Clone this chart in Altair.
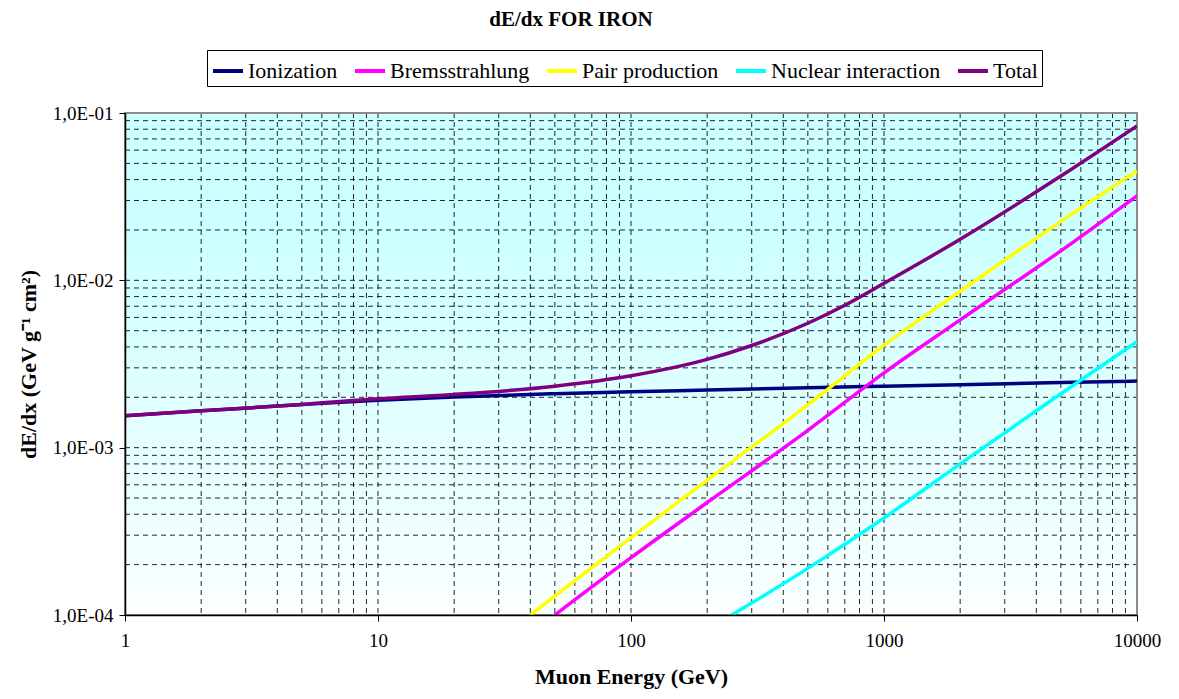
import altair as alt
import pandas as pd

# ---------------- data ----------------
series_names = ["Ionization", "Bremsstrahlung", "Pair production", "Nuclear interaction", "Total"]
series_colors = ["#000080", "#FF00FF", "#FFFF00", "#00FFFF", "#800080"]

ion_E = [1, 2, 5, 10, 20, 50, 100, 200, 500, 1000, 2000, 5000, 10000]
ion_v = [1.55e-3, 1.66e-3, 1.81e-3, 1.92e-3, 2.01e-3, 2.10e-3, 2.16e-3, 2.21e-3, 2.28e-3, 2.33e-3, 2.38e-3, 2.45e-3, 2.50e-3]

brems_E = [50, 100, 200, 500, 1000, 2000, 5000, 10000]
brems_v = [1.0e-4, 2.2e-4, 4.7e-4, 1.27e-3, 2.8e-3, 5.8e-3, 1.5e-2, 3.2e-2]

pair_E = [40, 100, 200, 500, 1000, 2000, 5000, 10000]
pair_v = [1.0e-4, 2.9e-4, 6.4e-4, 1.8e-3, 4.1e-3, 8.6e-3, 2.25e-2, 4.5e-2]

nucl_E = [250, 500, 1000, 2000, 5000, 10000]
nucl_v = [1.0e-4, 1.9e-4, 3.8e-4, 8.0e-4, 2.1e-3, 4.3e-3]

total_E = [1, 2, 5, 10, 20, 50, 100, 200, 300, 500, 700, 1000, 2000, 5000, 10000]
total_v = [1.55e-3, 1.66e-3, 1.81e-3, 1.96e-3, 2.08e-3, 2.33e-3, 2.69e-3, 3.37e-3, 4.08e-3,
           5.54e-3, 7.1e-3, 9.6e-3, 1.76e-2, 4.2e-2, 8.38e-2]

x_major = [1, 10, 100, 1000, 10000]
y_major = [1e-4, 1e-3, 1e-2, 1e-1]
y_labels = ["1,0E-04", "1,0E-03", "1,0E-02", "1,0E-01"]
x_minor = [m * d for d in [1, 10, 100, 1000] for m in range(2, 10)] + [10, 100, 1000]
y_minor = [m * d for d in [1e-4, 1e-3, 1e-2] for m in range(2, 10)] + [1e-3, 1e-2]

title_text = "dE/dx FOR IRON"
x_title = "Muon Energy (GeV)"
y_title = "dE/dx (GeV g\u207b\u00b9 cm\u00b2)"

# ---------------- build tables ----------------
rows = []
for name, es, vs in zip(series_names,
                        [ion_E, brems_E, pair_E, nucl_E, total_E],
                        [ion_v, brems_v, pair_v, nucl_v, total_v]):
    for e, v in zip(es, vs):
        rows.append({"series": name, "E": e, "v": v})
df = pd.DataFrame(rows)
df_xg = pd.DataFrame({"g": x_minor})
df_yg = pd.DataFrame({"g": y_minor})

W, H = 1012, 502
FONT = "Liberation Serif"

xscale = alt.Scale(type="log", domain=[1, 10000])
yscale = alt.Scale(type="log", domain=[1e-4, 1e-1])

label_expr_y = " : ".join(
    f"abs(datum.value - {v}) < {v}*1e-6 ? '{lab}'" for v, lab in zip(y_major, y_labels)
) + " : ''"

bg = alt.Chart(pd.DataFrame({"a": [0]})).mark_rect(
    fill=alt.Gradient(
        gradient="linear",
        stops=[alt.GradientStop(color="#CCFFFF", offset=0),
               alt.GradientStop(color="#CCFFFF", offset=0.25),
               alt.GradientStop(color="#FAFFFF", offset=1)],
        x1=0, x2=0, y1=0, y2=1,
    )
).encode(x=alt.value(0), x2=alt.value(W), y=alt.value(0), y2=alt.value(H))

xgrid = alt.Chart(df_xg).mark_rule(color="black", strokeWidth=1, strokeDash=[5, 4], opacity=0.85).encode(
    x=alt.X("g:Q", scale=xscale),
    y=alt.value(0), y2=alt.value(H),
)
ygrid = alt.Chart(df_yg).mark_rule(color="black", strokeWidth=1, strokeDash=[5, 4], opacity=0.85).encode(
    y=alt.Y("g:Q", scale=yscale),
    x=alt.value(0), x2=alt.value(W),
)

border = alt.Chart(pd.DataFrame({"a": [0]})).mark_rect(
    filled=False, stroke="#8C8C8C", strokeWidth=2
).encode(x=alt.value(0), x2=alt.value(W), y=alt.value(0), y2=alt.value(H))

lines = alt.Chart(df).mark_line(strokeWidth=3.5, clip=True, interpolate="monotone").encode(
    x=alt.X("E:Q", scale=xscale,
            axis=alt.Axis(values=x_major, format="d", title=x_title, grid=False,
                          labelFont=FONT, labelFontSize=19, labelColor="black",
                          titleFont=FONT, titleFontSize=22, titleFontWeight="bold", titleColor="black",
                          tickSize=6, tickColor="black", domainColor="black", domainWidth=1.5,
                          labelPadding=10, titlePadding=16, zindex=1, labelFlush=False)),
    y=alt.Y("v:Q", scale=yscale,
            axis=alt.Axis(values=y_major, labelExpr=label_expr_y, title=y_title, grid=False,
                          labelFont=FONT, labelFontSize=19, labelColor="black",
                          titleFont=FONT, titleFontSize=22, titleFontWeight="bold", titleColor="black",
                          tickSize=6, tickColor="black", domainColor="black", domainWidth=1.5,
                          labelPadding=6, titlePadding=12, zindex=1, labelFlush=False)),
    color=alt.Color("series:N",
                    scale=alt.Scale(domain=series_names, range=series_colors),
                    sort=series_names,
                    legend=alt.Legend(title=None, orient="none", direction="horizontal",
                                      legendX=82, legendY=-63,
                                      symbolType="stroke", symbolStrokeWidth=4, symbolSize=900,
                                      labelFont=FONT, labelFontSize=22, labelColor="black",
                                      labelLimit=0,
                                      labelOffset=3, columnPadding=9, symbolOffset=0,
                                      strokeColor="black", fillColor="white", padding=4,
                                      cornerRadius=0)),
    order=alt.Order("E:Q"),
    detail="series:N",
)

chart = alt.layer(bg, xgrid, ygrid, border, lines).properties(
    width=W, height=H,
    title=alt.TitleParams(title_text, font=FONT, fontSize=21, fontWeight="bold", color="black",
                          anchor="middle", frame="group", offset=20, dx=-60),
    autosize=alt.AutoSizeParams(type="none"),
    padding={"left": 117, "top": 105, "right": 34, "bottom": 76},
).configure_view(stroke=None)

chart.save("out.html", embed_options={"renderer": "svg", "actions": False})
